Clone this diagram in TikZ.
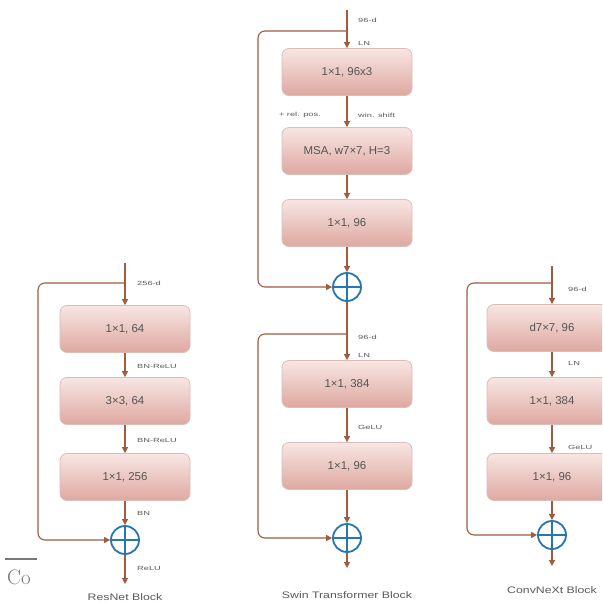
\documentclass[tikz,border=0pt]{standalone}
\usepackage{fontspec}
\setsansfont{Liberation Sans}
\newfontfamily\lblfont[FakeStretch=1.55]{Liberation Sans}
\newfontfamily\ttlfont[FakeStretch=1.3]{Liberation Sans}
\usetikzlibrary{arrows.meta}
\definecolor{conncol}{RGB}{160,92,62}
\definecolor{addblue}{RGB}{38,118,178}
\definecolor{boxtop}{RGB}{248,230,227}
\definecolor{boxbot}{RGB}{222,168,160}
\definecolor{boxline}{RGB}{218,190,186}
\definecolor{boxtext}{RGB}{85,85,85}
\definecolor{lbltext}{RGB}{90,90,90}
\definecolor{cogray}{RGB}{120,120,120}
\begin{document}
\begin{tikzpicture}[x=1bp,y=-1bp,
  blk/.style={draw=boxline, line width=0.8bp, rounded corners=7bp, top color=boxtop, bottom color=boxbot,
    minimum width=130bp, minimum height=47bp, inner sep=0pt,
    font=\sffamily\fontsize{11.5}{13}\selectfont, text=boxtext},
  line/.style={draw=conncol, line width=1.1bp},
  conn/.style={line, -{Triangle[length=6bp,width=6bp]}},
  skip/.style={conn, rounded corners=7bp},
  lbl/.style={font=\lblfont\fontsize{6}{7}\selectfont, text=lbltext, anchor=west, inner sep=0pt},
  lble/.style={lbl, anchor=east},
  addc/.style={circle, draw=addblue, line width=1.8bp, minimum size=28bp, inner sep=0pt,
    path picture={\draw[addblue, line width=1.8bp]
      (path picture bounding box.north) -- (path picture bounding box.south)
      (path picture bounding box.west) -- (path picture bounding box.east);}},
  ttl/.style={font=\ttlfont\fontsize{9.5}{11}\selectfont, text=lbltext, inner sep=0pt}
]
\useasboundingbox (0,0) rectangle (602,602);
\clip (0,0) rectangle (602,602);
\fill[white] (0,0) rectangle (602,602);

% ---------- ResNet block ----------
\coordinate (r0) at (125,263);
\coordinate (rs) at (125,283);
\coordinate (rL) at (38,400);
\node[blk] (r1) at (125,329) {1×1, 64};
\node[blk] (r2) at (125,401) {3×3, 64};
\node[blk] (r3) at (125,477) {1×1, 256};
\node[addc] (ra) at (125,540) {};
\coordinate (rend) at (125,584);
\draw[line] (r0) -- (rs);
\draw[conn] (rs) -- (r1.north);
\draw[conn] (r1.south) -- (r2.north);
\draw[conn] (r2.south) -- (r3.north);
\draw[conn] (r3.south) -- (ra.north);
\draw[conn] (ra.south) -- (rend);
\draw[skip] (rs) -| (rL) |- (ra.west);
\node[lbl] (rl1) at (137,283) {256-d};
\node[lbl] (rl2) at (137,366) {BN-ReLU};
\node[lbl] (rl3) at (137,440) {BN-ReLU};
\node[lbl] (rl4) at (137,513) {BN};
\node[lbl] (rl5) at (137,568) {ReLU};
\node[ttl] (rt) at (125,597) {ResNet Block};

% ---------- Swin block ----------
\coordinate (s0) at (347,10);
\coordinate (ss) at (347,31);
\coordinate (sL) at (258,150);
\node[blk] (s1) at (347,72) {1×1, 96x3};
\node[blk] (s2) at (347,151) {MSA, w7×7, H=3};
\node[blk] (s3) at (347,223) {1×1, 96};
\node[addc] (sa) at (347,287) {};
\draw[line] (s0) -- (ss);
\draw[conn] (ss) -- (s1.north);
\draw[conn] (s1.south) -- (s2.north);
\draw[conn] (s2.south) -- (s3.north);
\draw[conn] (s3.south) -- (sa.north);
\draw[skip] (ss) -| (sL) |- (sa.west);
\node[lbl] (sl1) at (358,20) {96-d};
\node[lbl] (sl2) at (358,43) {LN};
\node[lble] (sl3) at (321,115) {+ rel. pos.};
\node[lbl] (sl4) at (358,115) {win. shift};

\coordinate (ss2) at (347,334);
\coordinate (sL2) at (258,450);
\node[blk] (s4) at (347,384) {1×1, 384};
\node[blk] (s5) at (347,466) {1×1, 96};
\node[addc] (sb) at (347,538) {};
\coordinate (send) at (347,568);
\draw[line] (sa.south) -- (ss2);
\draw[conn] (ss2) -- (s4.north);
\draw[conn] (s4.south) -- (s5.north);
\draw[conn] (s5.south) -- (sb.north);
\draw[conn] (sb.south) -- (send);
\draw[skip] (ss2) -| (sL2) |- (sb.west);
\node[lbl] (sl5) at (358,337) {96-d};
\node[lbl] (sl6) at (358,355) {LN};
\node[lbl] (sl7) at (358,427) {GeLU};
\node[ttl] (st) at (347,595) {Swin Transformer Block};

% ---------- ConvNeXt block ----------
\coordinate (c0) at (552,266);
\coordinate (cs) at (552,283);
\coordinate (cL) at (467,400);
\node[blk] (c1) at (552,328) {d7×7, 96};
\node[blk] (c2) at (552,401) {1×1, 384};
\node[blk] (c3) at (552,477) {1×1, 96};
\node[addc] (ca) at (552,535) {};
\coordinate (cend) at (552,566);
\draw[line] (c0) -- (cs);
\draw[conn] (cs) -- (c1.north);
\draw[conn] (c1.south) -- (c2.north);
\draw[conn] (c2.south) -- (c3.north);
\draw[conn] (c3.south) -- (ca.north);
\draw[conn] (ca.south) -- (cend);
\draw[skip] (cs) -| (cL) |- (ca.west);
\node[lbl] (cl1) at (568,289) {96-d};
\node[lbl] (cl2) at (568,363) {LN};
\node[lbl] (cl3) at (568,447) {GeLU};
\node[ttl] (ct) at (552,590) {ConvNeXt Block};

% ---------- stray footnote fragment ----------
\draw[cogray, line width=1.2bp] (5,559) -- (37,559);
\node[text=cogray, font=\fontsize{21}{24}\selectfont, anchor=west, inner sep=0pt] (co) at (7,577) {Co};
\end{tikzpicture}
\end{document}
